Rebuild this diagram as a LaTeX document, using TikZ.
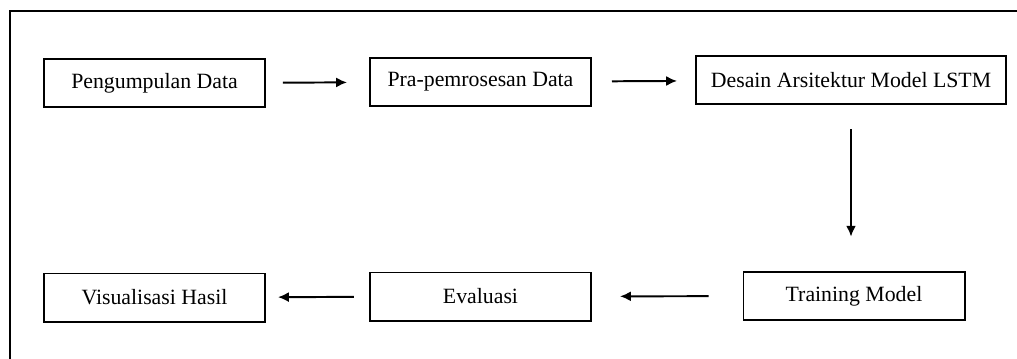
\documentclass[tikz,border=0pt]{standalone}
\usepackage{fontspec}
\setmainfont{Liberation Serif}
\usetikzlibrary{arrows.meta}

\begin{document}
\begin{tikzpicture}
    [x=0.025cm,y=-0.025cm,
     stage/.style={draw,line width=1.4pt,minimum width=#1*0.025cm,minimum height=1.2cm,
       inner sep=0pt,font=\fontsize{15.5}{18}\selectfont},
     stage/.default=221,
     flow/.style={-{Latex[length=2.7mm,width=2.5mm]},line width=1.4pt}]
  \useasboundingbox (0,0) rectangle (1017,358);
  \clip (0,0) rectangle (1017,358);
  \draw[line width=1.4pt] (10,400) -- (10,11) -- (1060,11);
  % top row
  \node[stage] (kumpul) at (154.5,83) {Pengumpulan Data};
  \node[stage] (prapros) at (480.5,82) {Pra-pemrosesan Data};
  \node[stage=310] (desain) at (851,80) {Desain Arsitektur Model LSTM};
  % bottom row
  \node[stage] (latih) at (854,296) {Training Model};
  \node[stage] (evalu) at (480.5,296.5) {Evaluasi};
  \node[stage] (visual) at (154.5,297.5) {Visualisasi Hasil};
  % arrows
  \draw[flow,shorten <=0.425cm,shorten >=0.55cm] (kumpul) -- (prapros);
  \draw[flow,shorten <=0.5cm,shorten >=0.45cm] (prapros) -- (desain);
  \draw[flow,shorten <=0.6cm,shorten >=0.86cm] (desain.south) -- (desain.south |- latih.north);
  \draw[flow,shorten <=0.85cm,shorten >=0.7cm] (latih) -- (evalu);
  \draw[flow,shorten <=0.38cm,shorten >=0.3cm] (evalu) -- (visual);
\end{tikzpicture}
\end{document}
